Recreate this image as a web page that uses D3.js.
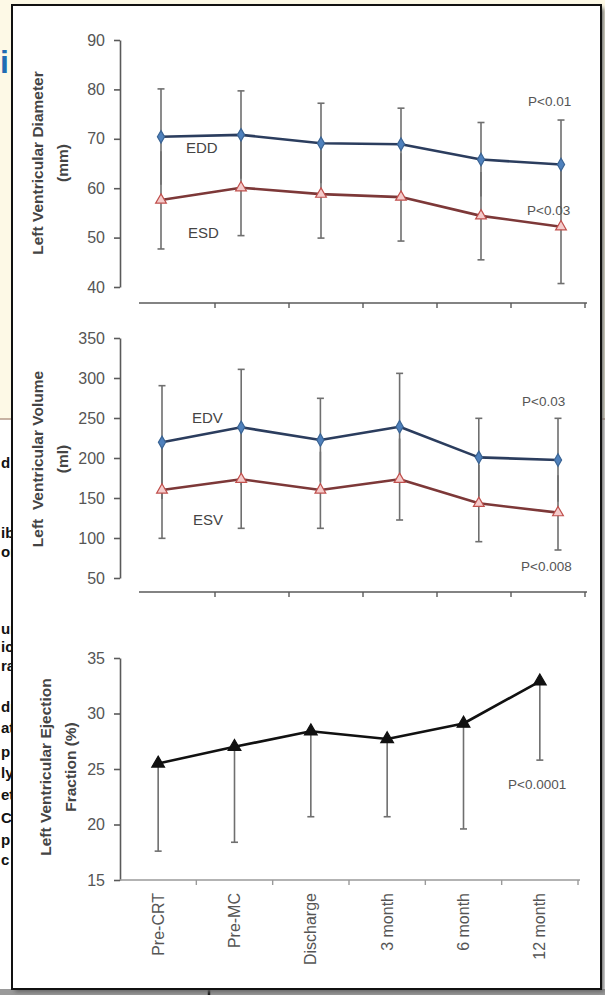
<!DOCTYPE html>
<html>
<head>
<meta charset="utf-8">
<script src="https://cdn.jsdelivr.net/npm/d3@7"></script>
<style>
  html, body { margin: 0; padding: 0; background: #ffffff; }
  svg { display: block; font-family: "Liberation Sans", Arial, sans-serif; }
</style>
</head>
<body>
<svg id="chart" width="605" height="995"></svg>
<script>
// ---------- data ----------
const categories = ["Pre-CRT", "Pre-MC", "Discharge", "3 month", "6 month", "12 month"];

const eddMean = [70.4, 70.8, 69.1, 68.9, 65.8, 64.8];
const eddSD   = [9.7, 8.9, 8.1, 7.3, 7.5, 9.0];
const esdMean = [57.6, 60.1, 58.8, 58.2, 54.4, 52.2];
const esdSD   = [9.9, 9.7, 8.9, 8.9, 8.9, 11.5];

const edvMean = [219.6, 238.4, 222.5, 239.1, 200.8, 197.5];
const edvSD   = [70.8, 72.4, 52.1, 66.7, 48.8, 52.1];
const esvMean = [160.0, 173.4, 160.0, 173.4, 143.4, 131.7];
const esvSD   = [60.4, 61.3, 47.9, 50.9, 48.0, 46.7];

const efMean = [25.5, 27.0, 28.4, 27.7, 29.1, 32.9];
const efSD   = [7.9, 8.6, 7.7, 7.0, 9.5, 7.1];

const diamTicks = [40, 50, 60, 70, 80, 90];
const volTicks  = [50, 100, 150, 200, 250, 300, 350];
const efTicks   = [15, 20, 25, 30, 35];

// ---------- setup ----------
const svg = d3.select("#chart");
const defs = svg.append("defs");
const blur = defs.append("filter").attr("id", "sh").attr("x", "-5%").attr("y", "-5%").attr("width", "110%").attr("height", "110%");
blur.append("feGaussianBlur").attr("stdDeviation", 2);

// background document fragments
svg.append("rect").attr("x", 0).attr("y", 0).attr("width", 605).attr("height", 419).attr("fill", "#fdf9e6");
svg.append("line").attr("x1", 0).attr("x2", 605).attr("y1", 419).attr("y2", 419).attr("stroke", "#b59a88").attr("stroke-width", 1.5);
svg.append("text").attr("x", 0).attr("y", 73)
  .attr("font-size", 32).attr("font-weight", "bold").attr("fill", "#1f6db3").text("i");
const frags = [["d", 468], ["ib", 538], ["or", 557], ["ur", 634], ["ic", 652], ["ra", 671],
  ["du", 712], ["at", 733], ["p", 757], ["ly", 778], ["et", 800], ["C", 823], ["p", 845], ["c", 865]];
svg.append("g").selectAll("text").data(frags).join("text")
  .attr("x", 1).attr("y", d => d[1])
  .attr("font-size", 15).attr("font-weight", "bold").attr("fill", "#111").text(d => d[0]);
svg.append("rect").attr("x", 0).attr("y", 989).attr("width", 605).attr("height", 6).attr("fill", "#9a9a9a");
svg.append("line").attr("x1", 209).attr("x2", 209).attr("y1", 985).attr("y2", 995).attr("stroke", "#111").attr("stroke-width", 2.5);

// panel
svg.append("rect").attr("x", 15).attr("y", 8).attr("width", 589).attr("height", 984)
  .attr("fill", "#666").attr("filter", "url(#sh)");
svg.append("rect").attr("x", 12).attr("y", 5).attr("width", 589).attr("height", 984)
  .attr("fill", "#fff").attr("stroke", "#111").attr("stroke-width", 2);

const AXIS_X = 120;
const axisCol = "#5a5a5a";
const textCol = "#555";

function yAxis(scale, ticks) {
  const g = svg.append("g").attr("transform", `translate(${AXIS_X},0)`)
    .call(d3.axisLeft(scale).tickValues(ticks).tickSize(6).tickSizeOuter(0).tickPadding(9));
  g.select(".domain").attr("stroke", axisCol).attr("stroke-width", 1.6);
  g.selectAll(".tick line").attr("stroke", axisCol).attr("stroke-width", 1.6);
  g.selectAll(".tick text").attr("fill", textCol).attr("font-size", 16)
    .attr("font-family", "'Liberation Sans', Arial, sans-serif");
  return g;
}

function xAxisBand(band, y, x0, x1, col) {
  svg.append("line").attr("x1", x0).attr("x2", x1).attr("y1", y).attr("y2", y)
    .attr("stroke", col).attr("stroke-width", 1.6);
  const bounds = categories.map(c => band(c) + band.bandwidth());
  svg.append("g").selectAll("line").data(bounds).join("line")
    .attr("x1", d => d).attr("x2", d => d).attr("y1", y).attr("y2", y + 5)
    .attr("stroke", col).attr("stroke-width", 1.4);
}

function yTitle(lines, cx, cy, gap) {
  const g = svg.append("g").attr("transform", `translate(${cx},${cy}) rotate(-90)`);
  lines.forEach((t, i) => {
    g.append("text").attr("x", 0).attr("y", i * gap).attr("dy", "0.35em")
      .attr("text-anchor", "middle").attr("font-size", 15.5).attr("font-weight", "bold")
      .attr("fill", "#444").style("white-space", "pre").text(t);
  });
}

function errorBars(x, y, mean, sd, capTop, capBottom, onlyDown) {
  const g = svg.append("g");
  categories.forEach((c, i) => {
    const top = onlyDown ? mean[i] : mean[i] + sd[i];
    const bot = mean[i] - sd[i];
    g.append("line").attr("x1", x(c)).attr("x2", x(c)).attr("y1", y(top)).attr("y2", y(bot))
      .attr("stroke", "#6f6f6f").attr("stroke-width", 1.6);
    if (capTop) g.append("line").attr("x1", x(c) - 3.5).attr("x2", x(c) + 3.5).attr("y1", y(top)).attr("y2", y(top))
      .attr("stroke", "#6f6f6f").attr("stroke-width", 1.6);
    if (capBottom) g.append("line").attr("x1", x(c) - 3.5).attr("x2", x(c) + 3.5).attr("y1", y(bot)).attr("y2", y(bot))
      .attr("stroke", "#6f6f6f").attr("stroke-width", 1.6);
  });
}

function seriesLine(x, y, mean, col) {
  const line = d3.line().x((d, i) => x(categories[i])).y(d => y(d));
  svg.append("path").datum(mean).attr("d", line).attr("fill", "none")
    .attr("stroke", col).attr("stroke-width", 2.6).attr("stroke-linejoin", "round");
}

function markers(x, y, mean, type, size, fill, stroke) {
  svg.append("g").selectAll("path").data(mean).join("path")
    .attr("transform", (d, i) => `translate(${x(categories[i])},${y(d)})`)
    .attr("d", d3.symbol().type(type).size(size))
    .attr("fill", fill).attr("stroke", stroke).attr("stroke-width", 1.2);
}

function label(t, x, y, size, col, anchor) {
  svg.append("text").attr("x", x).attr("y", y).attr("dy", "0.35em").attr("text-anchor", anchor || "start")
    .attr("font-size", size).attr("fill", col).text(t);
}

const bandTop = d3.scaleBand().domain(categories).range([141, 585]);

// ---------- panel 1: diameter ----------
const y1 = d3.scaleLinear().domain([40, 90]).range([287, 40]);
const x1 = d3.scalePoint().domain(categories).range([161, 561]);
yAxis(y1, diamTicks);
xAxisBand(bandTop, 303, 139, 587, axisCol);
yTitle(["Left Ventricular Diameter", "(mm)"], 37.5, 163, 25);
errorBars(x1, y1, eddMean, eddSD, true, false, false);
errorBars(x1, y1, esdMean, esdSD, false, true, false);
seriesLine(x1, y1, eddMean, "#2b3d5e");
seriesLine(x1, y1, esdMean, "#7d3838");
markers(x1, y1, eddMean, d3.symbolDiamond, 45, "#4f81bd", "#3a6494");
markers(x1, y1, esdMean, d3.symbolTriangle, 50, "#f4cccc", "#c0504d");
label("EDD", 186, 148, 15, "#444");
label("ESD", 188, 233, 15, "#444");
label("P<0.01", 528, 101, 13.5, textCol);
label("P<0.03", 527, 210, 13.5, textCol);

// ---------- panel 2: volume ----------
const y2 = d3.scaleLinear().domain([50, 350]).range([578, 338]);
const x2 = d3.scalePoint().domain(categories).range([162, 558]);
yAxis(y2, volTicks);
xAxisBand(bandTop, 592, 139, 587, axisCol);
yTitle(["Left  Ventricular Volume", "(ml)"], 37.5, 459, 25);
errorBars(x2, y2, edvMean, edvSD, true, false, false);
errorBars(x2, y2, esvMean, esvSD, false, true, false);
seriesLine(x2, y2, edvMean, "#2b3d5e");
seriesLine(x2, y2, esvMean, "#7d3838");
markers(x2, y2, edvMean, d3.symbolDiamond, 45, "#4f81bd", "#3a6494");
markers(x2, y2, esvMean, d3.symbolTriangle, 50, "#f4cccc", "#c0504d");
label("EDV", 192, 418, 15, "#444");
label("ESV", 193, 520, 15, "#444");
label("P<0.03", 522, 401, 13.5, textCol);
label("P<0.008", 521, 566, 13.5, textCol);

// ---------- panel 3: ejection fraction ----------
const y3 = d3.scaleLinear().domain([15, 35]).range([880, 658]);
const x3b = d3.scaleBand().domain(categories).range([120, 578]);
const x3 = c => x3b(c) + x3b.bandwidth() / 2;
yAxis(y3, efTicks);
xAxisBand(x3b, 880, 120, 580, "#9a9a9a");
yTitle(["Left Ventricular Ejection", "Fraction (%)"], 46, 767, 25);
errorBars(x3, y3, efMean, efSD, false, true, true);
seriesLine(x3, y3, efMean, "#111");
markers(x3, y3, efMean, d3.symbolTriangle, 70, "#111", "#111");
label("P<0.0001", 508, 784, 13.5, textCol);

svg.append("g").selectAll("text").data(categories).join("text")
  .attr("transform", c => `translate(${x3(c)},893) rotate(-90)`)
  .attr("dy", "0.35em").attr("text-anchor", "end").attr("font-size", 16)
  .attr("fill", textCol).text(c => c);
</script>
</body>
</html>
